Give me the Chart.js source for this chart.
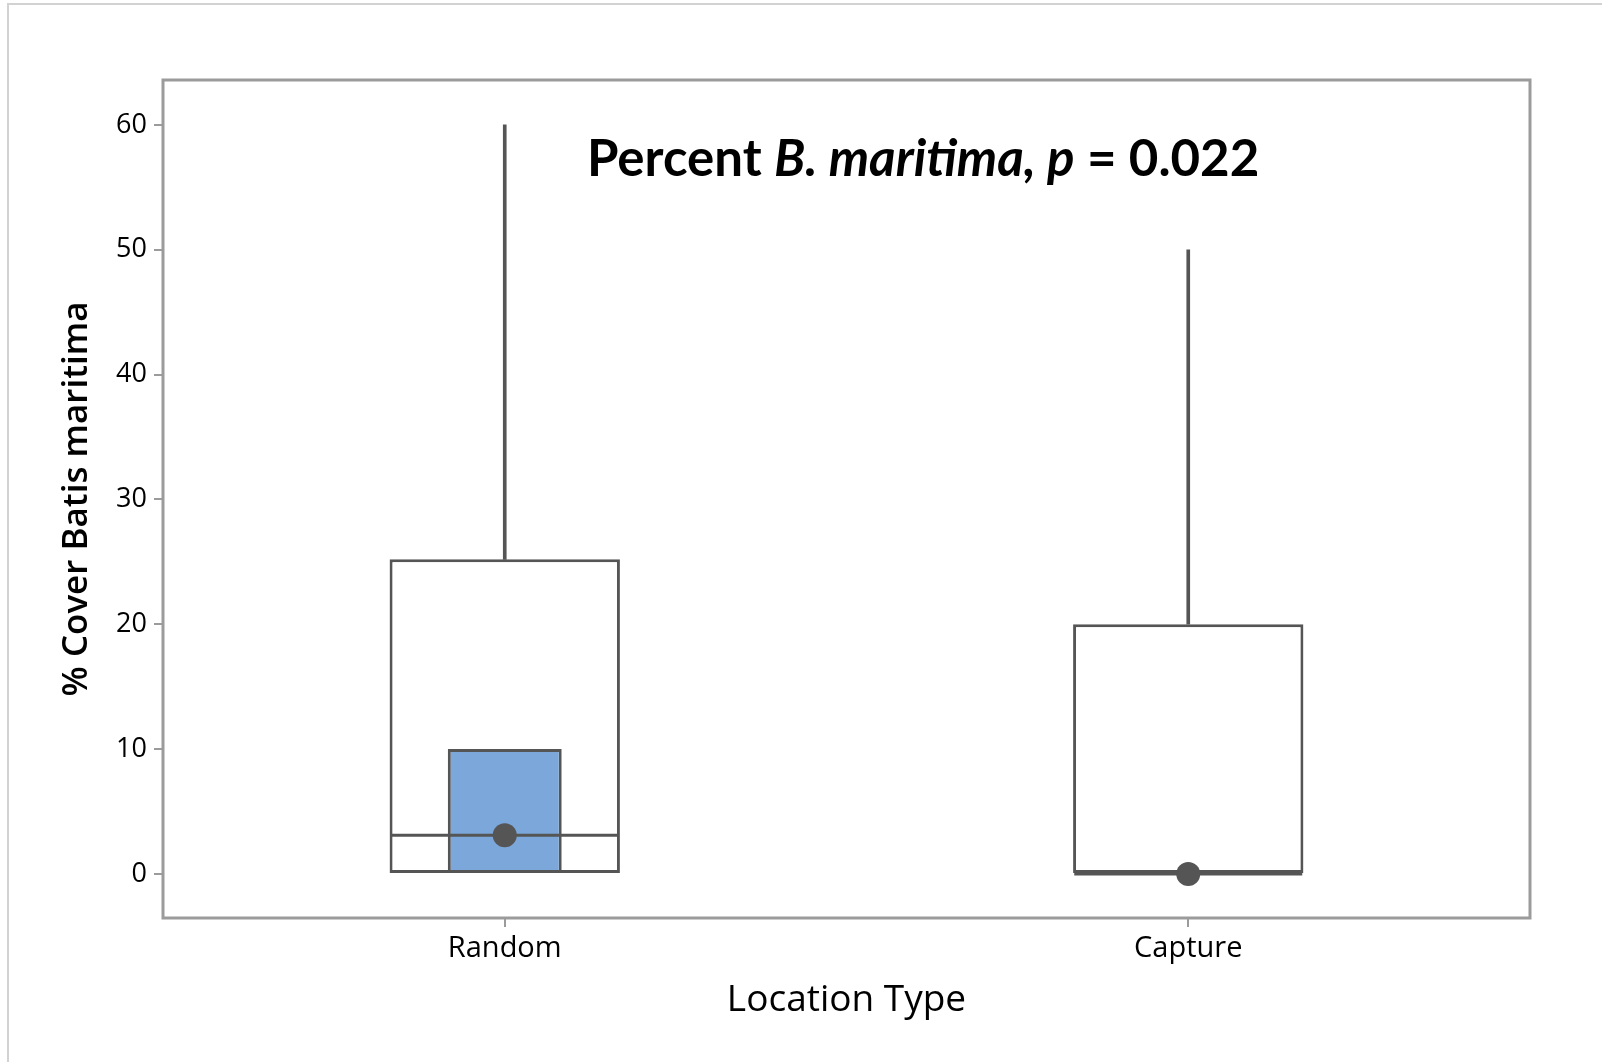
<!DOCTYPE html>
<html>
<head>
<meta charset="utf-8">
<script src="https://cdn.jsdelivr.net/npm/chart.js@4.4.1/dist/chart.umd.min.js"></script>
<style>
  html, body { margin: 0; padding: 0; background: #fff; }
  #wrap { position: relative; width: 1602px; height: 1062px; overflow: hidden; }
  #edge { position: absolute; left: 7px; top: 3px; width: 1700px; height: 1200px;
          border-top: 2px solid #d2d2d2; border-left: 2px solid #d2d2d2; }
  canvas { position: absolute; left: 0; top: 0; }
</style>
</head>
<body>
<div id="wrap">
  <div id="edge"></div>
  <canvas id="boxChart" width="1602" height="1062"></canvas>
</div>
<script>
// Data
const categories = ['Random', 'Capture'];
const q1Values = [0, 0];
const q3Values = [25.2, 20];
const medianValues = [3.1, 0];
const whiskerMax = [60, 50];
const ciRanges = [[0, 10], null];
const dotValues = [3.1, 0];
const yTicks = [0, 10, 20, 30, 40, 50, 60];

const lineGray = '#555555';
const frameGray = '#9b9b9b';

// frame round the plot area + the title text inside it
const framePlugin = {
  id: 'frame',
  afterDraw(chart) {
    const { ctx, chartArea: a } = chart;
    ctx.save();
    ctx.strokeStyle = frameGray;
    ctx.lineWidth = 3;
    ctx.strokeRect(a.left, a.top, a.right - a.left, a.bottom - a.top);

    const parts = [
      ['Percent ', false],
      ['B. maritima, p', true],
      [' = 0.022', false]
    ];
    let x = a.left + 424;
    const y = a.top + 80;
    ctx.fillStyle = '#000';
    ctx.textBaseline = 'middle';
    parts.forEach(([txt, it]) => {
      ctx.font = (it ? 'italic ' : '') + 'bold 51px Lato';
      ctx.fillText(txt, x, y);
      x += ctx.measureText(txt).width;
    });
    ctx.restore();
  }
};

const ctx = document.getElementById('boxChart').getContext('2d');
const boxChart = new Chart(ctx, {
  type: 'bar',
  data: {
    labels: categories,
    datasets: [
      {
        type: 'line',
        label: 'Mean',
        data: dotValues,
        showLine: false,
        pointRadius: 12,
        pointBackgroundColor: lineGray,
        pointBorderWidth: 0,
        order: 0
      },
      {
        type: 'line',
        label: 'Median',
        data: medianValues,
        showLine: false,
        pointStyle: 'line',
        pointRadius: 114,
        pointBorderColor: lineGray,
        pointBorderWidth: 3,
        order: 1
      },
      {
        label: 'CI',
        data: ciRanges,
        backgroundColor: '#7ba7da',
        borderColor: lineGray,
        borderWidth: 3,
        borderSkipped: false,
        grouped: false,
        barPercentage: 1 / 6,
        categoryPercentage: 1,
        order: 2
      },
      {
        label: 'Whisker',
        data: q3Values.map((q, i) => [q, whiskerMax[i]]),
        backgroundColor: lineGray,
        borderWidth: 0,
        grouped: false,
        barThickness: 3,
        order: 3
      },
      {
        label: 'IQR box',
        data: q1Values.map((q, i) => [q, q3Values[i]]),
        backgroundColor: '#ffffff',
        borderColor: lineGray,
        borderWidth: 3,
        borderSkipped: false,
        grouped: false,
        barPercentage: 0.337,
        categoryPercentage: 1,
        order: 4
      }
    ]
  },
  options: {
    responsive: false,
    animation: false,
    events: [],
    layout: { autoPadding: false, padding: { top: 80, right: 72, left: 0, bottom: 0 } },
    plugins: {
      legend: { display: false },
      tooltip: { enabled: false }
    },
    scales: {
      x: {
        type: 'category',
        offset: true,
        border: { display: false },
        grid: { offset: false, drawOnChartArea: false, drawTicks: true, tickLength: 9, color: frameGray, lineWidth: 2 },
        ticks: { color: '#000', font: { family: 'Open Sans', size: 29 }, padding: 4 },
        title: {
          display: true,
          text: 'Location Type',
          color: '#000',
          font: { family: 'Open Sans', size: 37 },
          padding: { top: 0, bottom: 39 }
        },
        afterFit(scale) { scale.height = 144; }
      },
      y: {
        min: -3.53,
        max: 63.6,
        border: { display: false },
        grid: { drawOnChartArea: false, drawTicks: true, tickLength: 9, color: frameGray, lineWidth: 2 },
        ticks: { color: '#000', font: { family: 'Open Sans', size: 27 }, padding: 7 },
        afterBuildTicks(scale) { scale.ticks = yTicks.map(v => ({ value: v })); },
        title: {
          display: true,
          text: '% Cover Batis maritima',
          color: '#000',
          font: { family: 'Open Sans', size: 35, weight: '600' },
          padding: { top: 56, bottom: 0 }
        },
        afterFit(scale) { scale.width = 163; }
      }
    }
  },
  plugins: [framePlugin]
});
</script>
</body>
</html>
